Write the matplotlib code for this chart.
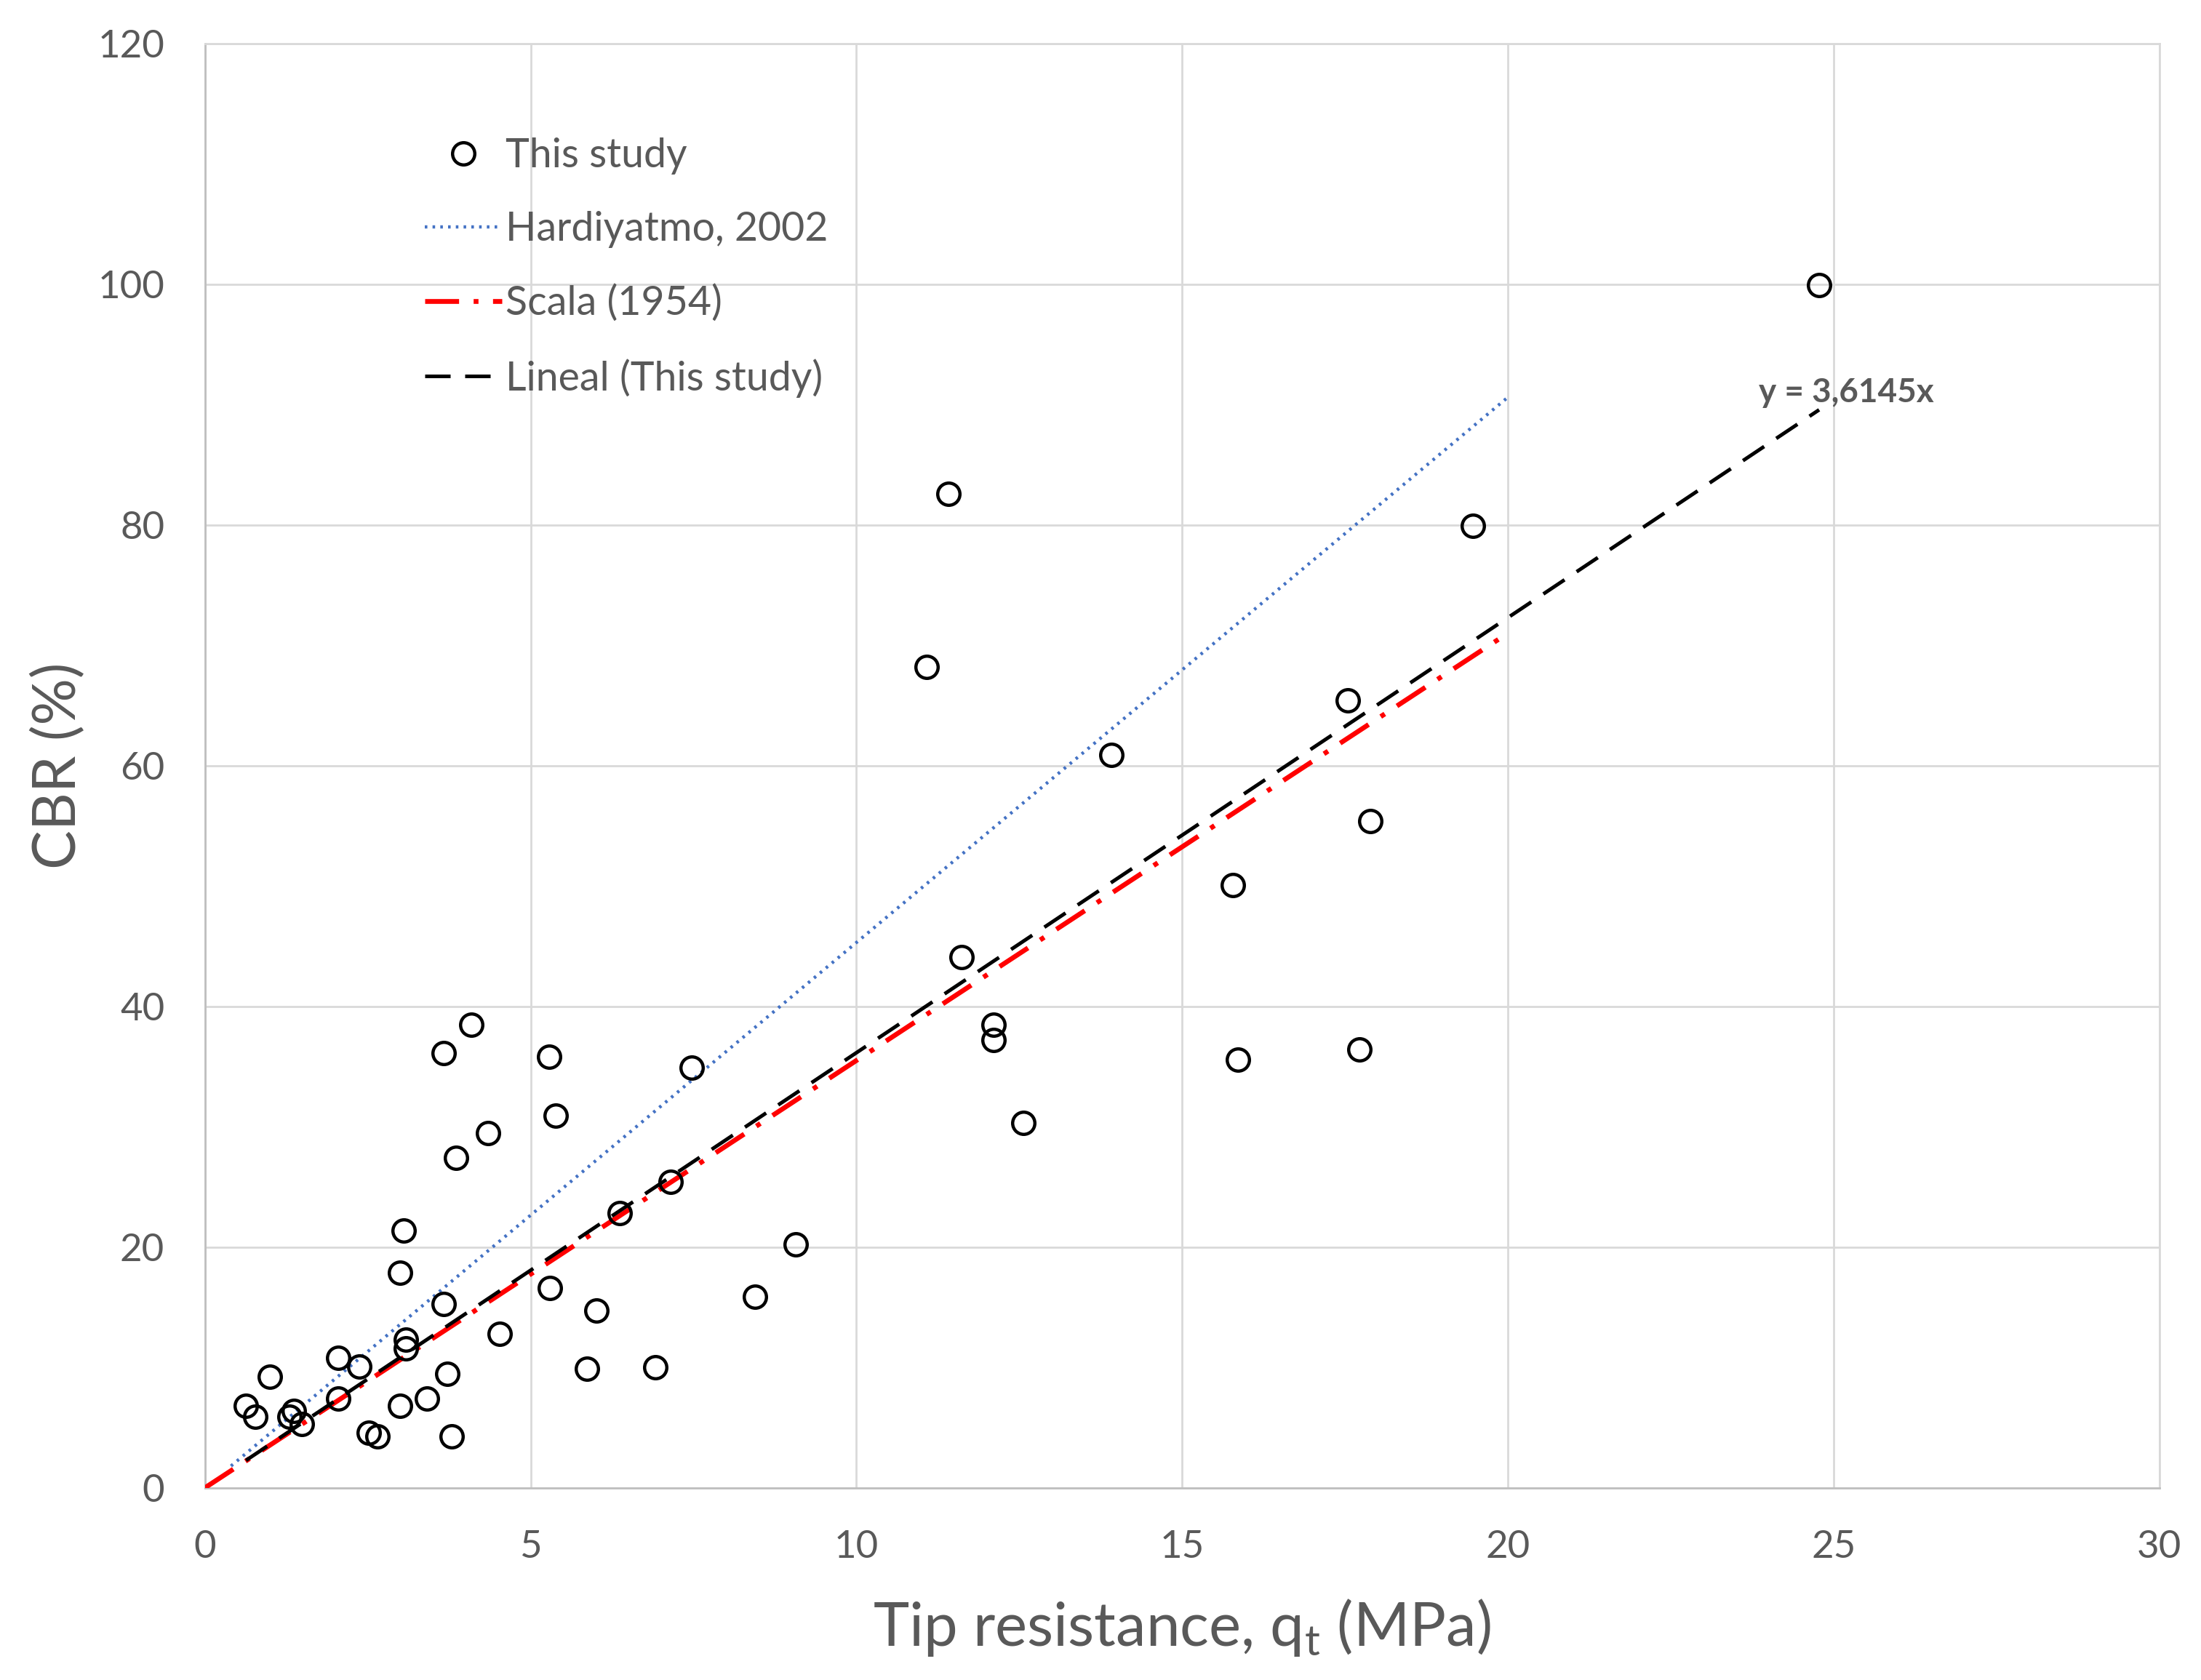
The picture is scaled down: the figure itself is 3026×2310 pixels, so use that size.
import numpy as np
import matplotlib
matplotlib.use('Agg')
import matplotlib.pyplot as plt

plt.rcParams['font.family'] = ['Lato', 'DejaVu Sans']

# Measured points (This study)
qt = [24.78, 11.42, 19.46, 11.08, 17.54, 13.92, 17.89, 15.78, 11.62, 12.11,
      12.11, 17.72, 15.86, 12.56, 4.09, 3.67, 5.28, 7.47, 5.39, 4.35,
      3.85, 7.15, 6.37, 3.05, 9.07, 2.99, 5.30, 8.45, 3.67, 6.01,
      4.53, 3.08, 3.08, 2.05, 2.37, 6.92, 5.87, 3.72, 1.00, 2.05,
      3.41, 0.63, 3.00, 0.77, 1.36, 1.30, 1.49, 2.52, 2.65, 3.79]
cbr = [99.9, 82.6, 79.9, 68.2, 65.4, 60.9, 55.4, 50.1, 44.1, 38.5,
       37.2, 36.4, 35.6, 30.3, 38.5, 36.1, 35.8, 34.9, 30.9, 29.5,
       27.4, 25.4, 22.8, 21.4, 20.2, 17.9, 16.6, 15.9, 15.3, 14.7,
       12.8, 12.3, 11.6, 10.8, 10.1, 10.0, 9.9, 9.5, 9.2, 7.4,
       7.4, 6.8, 6.8, 5.9, 6.4, 5.9, 5.3, 4.6, 4.3, 4.3]

# Correlation lines
hardi_x = [0.4, 20.0]
hardi_slope = 4.53
scala_x = [0.0, 20.0]
scala_slope = 3.55
fit_slope = 3.6145
fit_x = [min(qt), max(qt)]

fig = plt.figure(figsize=(15.13, 11.55), dpi=200)
ax = fig.add_axes([0.0931, 0.1144, 0.8879, 0.8597])

ax.plot(hardi_x, [hardi_slope * v for v in hardi_x], color='#4472C4', lw=1.6,
        linestyle=(0, (0.8, 1.6)), label='Hardiyatmo, 2002', zorder=3)
ax.plot(scala_x, [scala_slope * v for v in scala_x], color='#FF0000', lw=2.4,
        linestyle=(0, (7, 3, 1, 3)), label='Scala (1954)', zorder=3)
ax.plot(fit_x, [fit_slope * v for v in fit_x], color='black', lw=1.8,
        linestyle=(0, (7, 4)), label='Lineal (This study)', zorder=4)
ax.plot(qt, cbr, linestyle='none', marker='o', markersize=11,
        markerfacecolor='none', markeredgecolor='black', markeredgewidth=1.6,
        label='This study', zorder=5)

ax.text(25.2, 91.0, 'y = 3,6145x', ha='center', va='center', fontsize=16.5,
        fontweight='bold', color='#595959')

ax.set_xlim(0, 30)
ax.set_ylim(0, 120)
ax.set_xticks(range(0, 31, 5))
ax.set_yticks(range(0, 121, 20))
ax.grid(True, color='#D9D9D9', lw=1.0)
ax.set_axisbelow(True)
ax.tick_params(length=0, labelsize=19, colors='#595959')
ax.tick_params(axis='x', pad=21)
ax.tick_params(axis='y', pad=20)
for s in ax.spines.values():
    s.set_color('#D9D9D9')
    s.set_linewidth(1.0)
ax.spines['left'].set_color('#BFBFBF')
ax.spines['bottom'].set_color('#BFBFBF')

ax.set_xlabel('Tip resistance, q$_\\mathregular{t}$ (MPa)', fontsize=30,
              color='#595959', labelpad=16)
ax.set_ylabel('CBR (%)', fontsize=29, color='#595959', labelpad=6)

h, l = ax.get_legend_handles_labels()
order = [3, 0, 1, 2]
leg = ax.legend([h[i] for i in order], [l[i] for i in order], loc='upper left',
                bbox_to_anchor=(0.094, 0.96), frameon=False, fontsize=20,
                labelspacing=0.9, handlelength=1.9, handletextpad=0.1,
                labelcolor='#595959')

fig.savefig('out.png', dpi=200)
